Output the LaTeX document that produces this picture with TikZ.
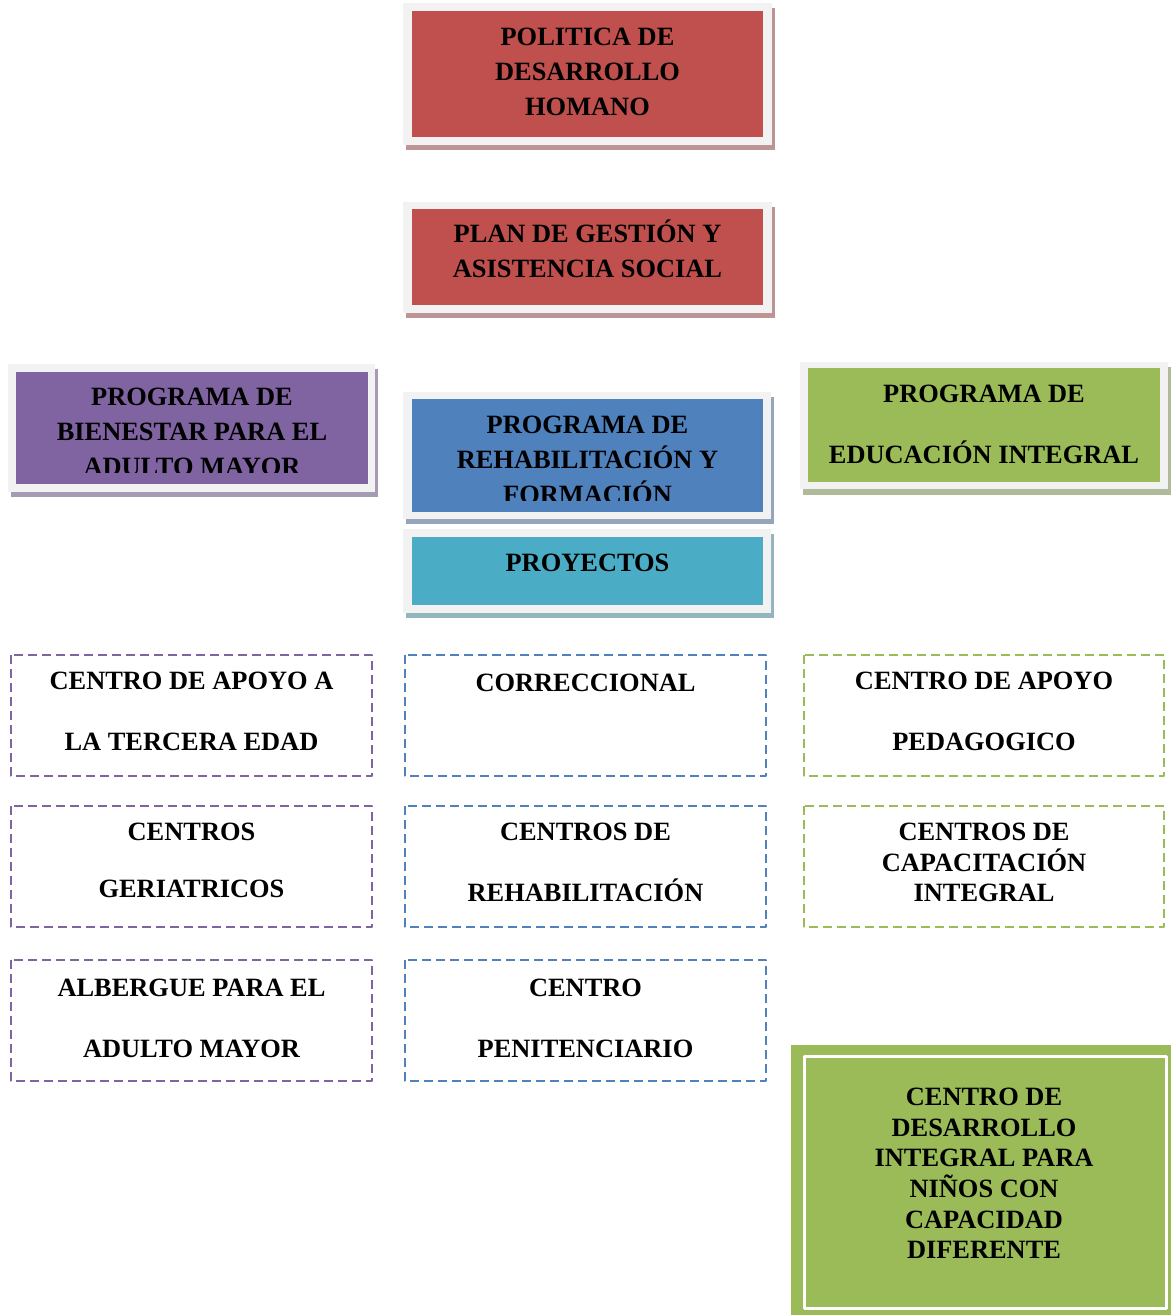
\documentclass[tikz,border=0pt]{standalone}
\usepackage{fontspec}
\setmainfont{Liberation Serif}
\definecolor{rojo}{HTML}{C0504D}
\definecolor{morado}{HTML}{8064A2}
\definecolor{azul}{HTML}{4F81BD}
\definecolor{turquesa}{HTML}{4BACC6}
\definecolor{verde}{HTML}{9BBB59}
\definecolor{marco}{HTML}{F2F2F2}
\colorlet{sombraR}{rojo!50!gray!70!white}
\colorlet{sombraM}{morado!50!gray!70!white}
\colorlet{sombraA}{azul!50!gray!70!white}
\colorlet{sombraT}{turquesa!50!gray!70!white}
\colorlet{sombraV}{verde!50!gray!70!white}
\tikzset{
	texto/.style={align=center, inner sep=0pt, font=\fontsize{13.2}{17.5}\selectfont\bfseries},
	caja/.style={draw=#1, line width=1.4pt, dash pattern=on 4.5pt off 2.5pt},
}
\begin{document}
\begin{tikzpicture}[x=0.5pt, y=-0.5pt, line join = round]
	\useasboundingbox (0,0) rectangle (1171,1315);
	% politica
	\fill[sombraR] (406,8) rectangle (775,150);
	\fill[marco] (403,3) rectangle (772,145);
	\fill[rojo] (412,11) rectangle (763,137);
	\node[texto] (politica) at (587.5,72) {POLITICA DE\\DESARROLLO\\HOMANO};
	% plan
	\fill[sombraR] (406,207) rectangle (775,318);
	\fill[marco] (403,202) rectangle (772,313);
	\fill[rojo] (412,209) rectangle (763,305);
	\node[texto] (plan) at (587.5,248.5) {PLAN DE GESTIÓN Y\\ASISTENCIA SOCIAL};
	% bienestar
	\fill[sombraM] (11,369) rectangle (378,497);
	\fill[marco] (8,364) rectangle (375,492);
	\fill[morado] (16,372) rectangle (368,484);
	\begin{scope}
		\clip (16,372) rectangle (368,472);
		\node[texto] (bienestar) at (192,432) {PROGRAMA DE\\BIENESTAR PARA EL\\ADULTO MAYOR};
	\end{scope}
	% rehabilitacion
	\fill[sombraA] (406,397) rectangle (774,524);
	\fill[marco] (403,392) rectangle (771,519);
	\fill[azul] (412,399) rectangle (763,512);
	\begin{scope}
		\clip (412,399) rectangle (763,500);
		\node[texto] (rehab) at (587.5,459.5) {PROGRAMA DE\\REHABILITACIÓN Y\\FORMACIÓN};
	\end{scope}
	% proyectos
	\fill[sombraT] (406,534) rectangle (774,618);
	\fill[marco] (403,529) rectangle (771,613);
	\fill[turquesa] (412,537) rectangle (763,605);
	\node[texto] (proyectos) at (587.5,563) {PROYECTOS};
	% educacion
	\fill[sombraV] (803,367) rectangle (1171,495);
	\fill[marco] (800,362) rectangle (1168,489);
	\fill[verde] (808,368) rectangle (1160,482);
	\node[texto] (educacion) at (984,424.5) {PROGRAMA DE\\[13pt]EDUCACIÓN INTEGRAL};
	% columna morada
	\draw[caja=morado] (11,655) rectangle (372,776);
	\node[texto] (tercera) at (191.5,711.5) {CENTRO DE APOYO A\\[13pt]LA TERCERA EDAD};
	\draw[caja=morado] (11,806) rectangle (372,927);
	\node[texto] (geriatricos) at (191.5,860.5) {CENTROS\\[11pt]GERIATRICOS};
	\draw[caja=morado] (11,960) rectangle (372,1081);
	\node[texto] (albergue) at (191.5,1018) {ALBERGUE PARA EL\\[13pt]ADULTO MAYOR};
	% columna azul
	\draw[caja=azul] (405,655) rectangle (766,776);
	\node[texto] (correccional) at (585.5,683) {CORRECCIONAL};
	\draw[caja=azul] (405,806) rectangle (766,927);
	\node[texto] (centrosrehab) at (585.5,862.5) {CENTROS DE\\[13pt]REHABILITACIÓN};
	\draw[caja=azul] (405,960) rectangle (766,1081);
	\node[texto] (penitenciario) at (585.5,1018) {CENTRO\\[13pt]PENITENCIARIO};
	% columna verde
	\draw[caja=verde] (804,655) rectangle (1164,776);
	\node[texto] (pedagogico) at (984,711.5) {CENTRO DE APOYO\\[13pt]PEDAGOGICO};
	\draw[caja=verde] (804,806) rectangle (1164,927);
	\node[texto] (capacitacion) at (984,862.5) {CENTROS DE\\[-2.25pt]CAPACITACIÓN\\[-2.25pt]INTEGRAL};
	% desarrollo integral
	\fill[verde] (791,1045) rectangle (1171,1315);
	\draw[white, line width=1.5pt] (804,1056) rectangle (1166,1308);
	\node[texto, font=\fontsize{13.2}{15.3}\selectfont\bfseries] (ninos) at (984,1173.5) {CENTRO DE\\DESARROLLO\\INTEGRAL PARA\\NIÑOS CON\\CAPACIDAD\\DIFERENTE};
\end{tikzpicture}
\end{document}
